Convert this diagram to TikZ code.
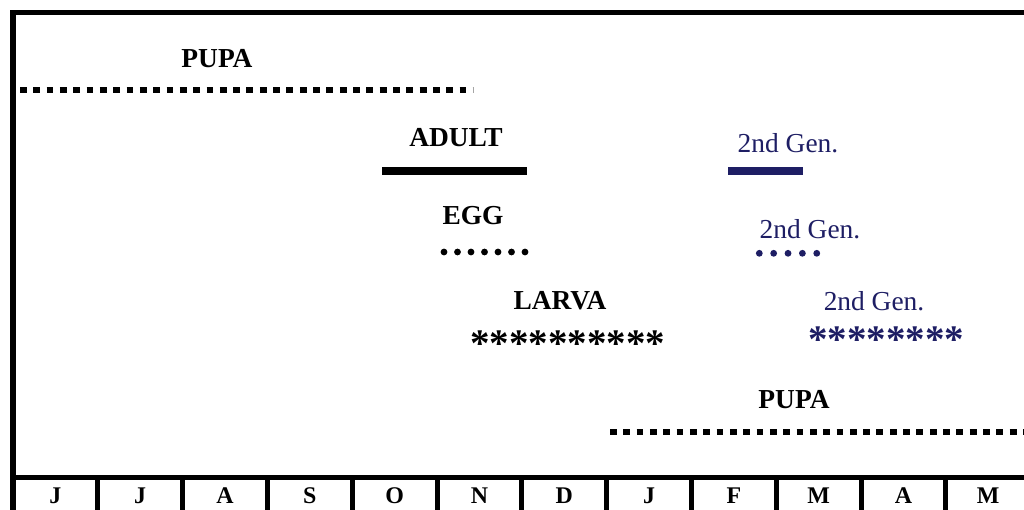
\documentclass[tikz,border=0pt]{standalone}
\usepackage{fontspec}
\setmainfont{Liberation Serif}
\definecolor{gennavy}{RGB}{30,30,100}
\tikzset{
  frameline/.style={line width=0.125cm},
  stagelabel/.style={font=\fontsize{19.5}{22}\selectfont\bfseries, inner sep=0pt},
  genlabel/.style={font=\fontsize{19.5}{22}\selectfont, text=gennavy, inner sep=0pt},
  monthlabel/.style={font=\fontsize{17}{19}\selectfont\bfseries, inner sep=0pt, anchor=base},
  pupadots/.style={line width=0.17cm, dash pattern=on 0.17cm off 0.163cm},
  eggdots/.style={line width=0.17cm, line cap=round, dash pattern=on 0pt off #1},
  larvastars/.style={font=\fontsize{27.7}{30}\selectfont\bfseries, inner sep=0pt, anchor=base west},
}
\begin{document}
\begin{tikzpicture}[x=0.025cm, y=-0.025cm]
    \useasboundingbox (0,0) rectangle (1024,510);
    % frame and month row
    \draw[frameline] (13,510) -- (13,12.5) -- (1027,12.5) -- (1027,510);
    \draw[frameline] (13,477.5) -- (1027,477.5);
    \foreach \i in {1,...,11}
        \draw[frameline] ({13+84.8*\i},477.5) -- ({13+84.8*\i},510);
    \foreach \m [count=\i] in {J,J,A,S,O,N,D,J,F,M,A,M}
        \node[monthlabel] (month\i) at ({13+84.8*(\i-0.5)},503) {\m};
    % first generation
    \node[stagelabel] (pupaA) at (217,59) {PUPA};
    \draw[pupadots] (20,90) -- (473,90);
    \node[stagelabel] (adult) at (456,138) {ADULT};
    \draw[line width=0.2cm] (382,171) -- (527,171);
    \node[stagelabel] (egg) at (473,216) {EGG};
    \draw[eggdots=0.3375cm] (444,252) -- (525.5,252);
    \node[stagelabel] (larva) at (560,301) {LARVA};
    \node[larvastars] (larvaStars) at (470,356) {**********};
    % second generation
    \node[genlabel] (genAdult) at (788,143) {2nd Gen.};
    \draw[gennavy, line width=0.2cm] (728,171) -- (803,171);
    \node[genlabel] (genEgg) at (810,229) {2nd Gen.};
    \draw[gennavy, eggdots=0.359cm] (759.3,253.3) -- (817,253.3);
    \node[genlabel] (genLarva) at (874,301) {2nd Gen.};
    \node[larvastars, text=gennavy] (genStars) at (808,352) {********};
    \node[stagelabel] (pupaB) at (794,400) {PUPA};
    \draw[pupadots] (610,432) -- (1030,432);
\end{tikzpicture}
\end{document}
